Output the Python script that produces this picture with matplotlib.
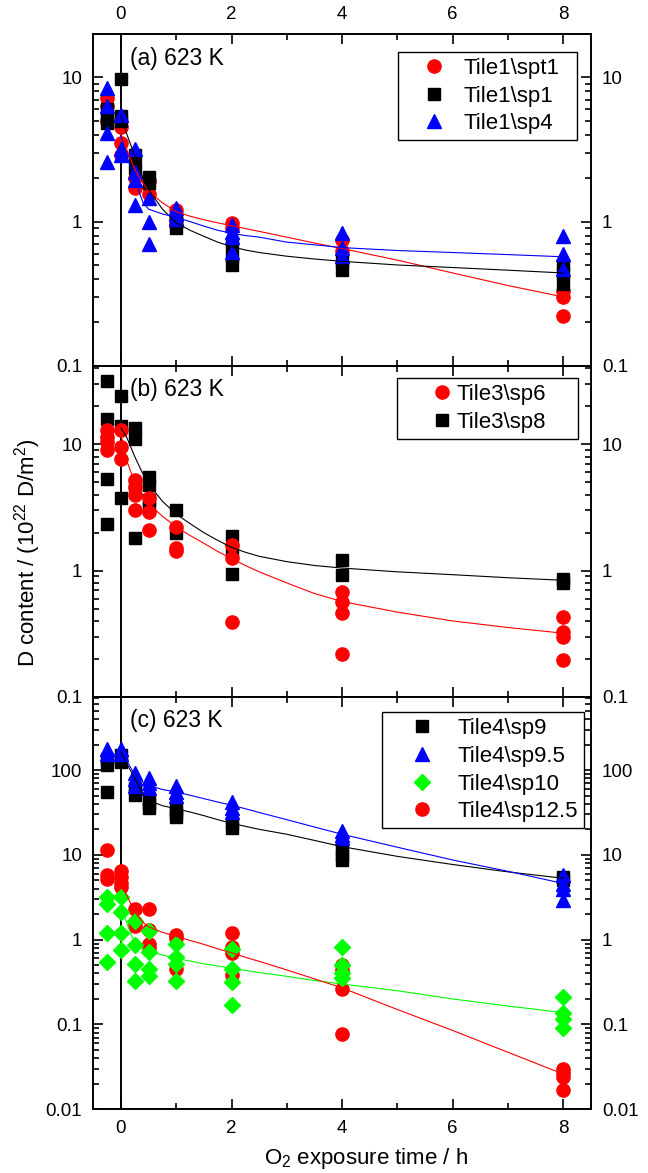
import matplotlib
matplotlib.use("Agg")
import matplotlib.pyplot as plt
from matplotlib.ticker import FuncFormatter, MultipleLocator, LogLocator, NullFormatter

plt.rcParams['font.family'] = ['Liberation Sans', 'DejaVu Sans']
plt.rcParams['mathtext.fontset'] = 'custom'
plt.rcParams['mathtext.rm'] = 'Liberation Sans'
plt.rcParams['mathtext.it'] = 'Liberation Sans:italic'

# measurement times (h), -0.25 = before O2 exposure
times = [-0.25, 0, 0.25, 0.5, 1, 2, 4, 8]

# panel (a) - values per time
a_spt1 = [[7.2, 6.3, 5.0], [4.5, 3.5, 2.9], [2.0, 1.7], [1.9, 1.55],
          [1.2, 1.05, 0.95], [0.97, 0.9], [0.75, 0.63], [0.33, 0.30, 0.22]]
a_sp1 = [[6.0, 5.2, 4.8], [9.8, 5.4, 5.0], [2.9, 2.35], [2.05, 1.85],
         [1.0, 0.9], [0.7, 0.58, 0.5], [0.53, 0.46], [0.5, 0.44, 0.37]]
a_sp4 = [[8.5, 6.3, 4.1, 2.6], [5.5, 3.2, 2.9], [3.2, 2.2, 1.95, 1.3], [1.45, 1.0, 0.7],
         [1.25, 1.12, 1.05], [0.95, 0.85, 0.78, 0.62], [0.83, 0.66, 0.58], [0.8, 0.6, 0.47]]

# panel (b)
b_sp6 = [[13, 11.5, 10.5, 9.0], [13, 9.5, 7.7], [5.2, 4.6, 4.0, 3.0], [3.8, 2.9, 2.1],
         [2.2, 1.5, 1.42], [1.6, 1.25, 0.39], [0.68, 0.57, 0.46, 0.22], [0.43, 0.33, 0.30, 0.195]]
b_sp8 = [[32, 16, 5.3, 2.35], [24, 14, 3.8], [13.5, 11, 4.5, 1.8], [5.5, 4.8, 3.6, 3.2],
         [3.0, 2.0], [1.9, 1.45, 0.94], [1.22, 0.92], [0.86, 0.80]]

# panel (c)
c_sp9 = [[135, 115, 55], [150, 125], [62, 51], [45, 40, 36],
         [35, 31, 28], [24, 21], [12, 10, 8.8], [5.5, 5.0]]
c_sp95 = [[175, 155], [175, 155], [92, 78, 65], [80, 70, 62],
          [65, 55, 50], [42, 36, 32], [19, 17, 16], [5.8, 4.5, 4.0, 2.9]]
c_sp10 = [[3.2, 2.6, 1.2, 0.55], [3.2, 2.1, 1.2, 0.76], [1.65, 0.86, 0.52, 0.33], [1.25, 0.72, 0.45, 0.37],
          [0.9, 0.63, 0.52, 0.33], [0.78, 0.45, 0.32, 0.17], [0.82, 0.5, 0.4, 0.35], [0.21, 0.135, 0.115, 0.09]]
c_sp125 = [[11.5, 5.8, 5.2], [6.4, 5.5, 4.6, 4.2], [2.3, 1.6, 1.45], [2.3, 1.3, 0.9, 0.8],
           [1.15, 1.05, 0.45], [1.2, 0.82, 0.7, 0.38], [0.5, 0.44, 0.26, 0.078], [0.03, 0.027, 0.024, 0.017]]

# fit curves
fit_t = [0, 0.1, 0.25, 0.4, 0.5, 0.75, 1, 1.25, 1.5, 1.75, 2, 2.25, 2.5, 3, 3.5, 4, 5, 6, 7, 8]
fit_a_spt1 = [4.0, 3.2, 2.3, 1.85, 1.62, 1.35, 1.17, 1.09, 1.03, 0.98, 0.935, 0.895, 0.855, 0.78, 0.71,
              0.65, 0.54, 0.44, 0.36, 0.30]
fit_a_sp1 = [5.4, 4.1, 2.85, 2.0, 1.66, 1.22, 0.98, 0.87, 0.79, 0.72, 0.67, 0.635, 0.61, 0.575, 0.55,
             0.53, 0.50, 0.48, 0.46, 0.44]
fit_a_sp4 = [3.9, 2.9, 1.95, 1.35, 1.22, 1.13, 1.07, 1.0, 0.93, 0.87, 0.83, 0.8, 0.78, 0.72, 0.69,
             0.66, 0.63, 0.61, 0.59, 0.57]
fit_b_sp6 = [12, 7.5, 5.0, 3.9, 3.4, 2.7, 2.22, 1.9, 1.65, 1.42, 1.25, 1.1, 0.98, 0.8, 0.66,
             0.57, 0.47, 0.40, 0.355, 0.32]
fit_b_sp8 = [13.5, 11.5, 8.0, 5.8, 4.85, 3.55, 2.8, 2.36, 2.0, 1.74, 1.53, 1.4, 1.3, 1.18, 1.1,
             1.05, 0.98, 0.93, 0.88, 0.84]
fit_c_sp9 = [165, 120, 80, 52, 44, 38, 35, 32, 29, 26, 23.5, 21.7, 20, 17.5, 14.8,
             12.5, 9.6, 7.7, 6.3, 5.3]
fit_c_sp95 = [175, 130, 88, 72, 66, 59, 55, 50.5, 46, 42, 38.5, 35, 31.6, 26, 21.3,
              17.5, 12.3, 8.7, 6.4, 4.6]
fit_c_sp10 = [2.5, 1.6, 0.9, 0.78, 0.73, 0.66, 0.6, 0.56, 0.52, 0.49, 0.46, 0.435, 0.41, 0.37, 0.33,
              0.30, 0.25, 0.2, 0.165, 0.138]
fit_c_sp125 = [4.2, 3.4, 2.1, 1.6, 1.42, 1.22, 1.09, 0.98, 0.88, 0.78, 0.7, 0.62, 0.555, 0.44, 0.345,
               0.27, 0.15, 0.085, 0.047, 0.026]

RED, BLACK, BLUE, GREEN = '#ff0000', '#000000', '#0000ff', '#00ff00'
STY = {'o': 9.5, 's': 8, '^': 10, 'D': 8}


def scatter(ax, vals, marker, color, label, z):
    xs, ys = [], []
    for t, v in zip(times, vals):
        xs += [t] * len(v)
        ys += v
    ax.plot(xs, ys, linestyle='none', marker=marker, ms=STY[marker], color=color,
            mec=color, label=label, zorder=z)


def style(ax, ylim, top=False, bottom=False):
    ax.set_yscale('log')
    ax.set_xlim(-0.5, 8.5)
    ax.set_ylim(*ylim)
    ax.axvline(0, color='k', lw=1.4, zorder=1)
    ax.xaxis.set_major_locator(MultipleLocator(2))
    ax.xaxis.set_minor_locator(MultipleLocator(1))
    ax.yaxis.set_major_locator(LogLocator(base=10))
    ax.yaxis.set_minor_locator(LogLocator(base=10, subs=range(2, 10)))
    ax.yaxis.set_major_formatter(FuncFormatter(lambda v, p: '%g' % v))
    ax.yaxis.set_minor_formatter(NullFormatter())
    ax.tick_params(which='both', direction='in', top=True, right=True,
                   labelright=True, labeltop=top, labelbottom=bottom,
                   labelsize=13.5, pad=8, width=1.2)
    ax.tick_params(which='major', length=7)
    ax.tick_params(which='minor', length=4)
    for s in ax.spines.values():
        s.set_linewidth(1.4)


def legend(ax, x0, x1, y1, hl, tp):
    lg = ax.legend(loc='upper right', bbox_to_anchor=(x0, 0, x1 - x0, y1), mode='expand',
                   borderaxespad=0, fancybox=False, edgecolor='k', framealpha=1,
                   fontsize=16, numpoints=1, handlelength=hl, handletextpad=tp,
                   borderpad=0.27, labelspacing=0.3)
    lg.get_frame().set_linewidth(1.0)


fig = plt.figure(figsize=(6.48, 11.73), dpi=100)
L, W = 0.144, 0.768
ax_a = fig.add_axes([L, 0.6882, W, 0.2828])
ax_b = fig.add_axes([L, 0.4058, W, 0.2824])
ax_c = fig.add_axes([L, 0.0543, W, 0.3512])

# (a)
scatter(ax_a, a_spt1, 'o', RED, 'Tile1\\spt1', 2)
scatter(ax_a, a_sp1, 's', BLACK, 'Tile1\\sp1', 2.1)
scatter(ax_a, a_sp4, '^', BLUE, 'Tile1\\sp4', 2.2)
ax_a.plot(fit_t, fit_a_spt1, color=RED, lw=0.8, zorder=3)
ax_a.plot(fit_t, fit_a_sp1, color=BLACK, lw=0.8, zorder=3)
ax_a.plot(fit_t, fit_a_sp4, color=BLUE, lw=0.8, zorder=3)
style(ax_a, (0.1, 20), top=True)
ax_a.text(0.16, 0.927, '(a) 623 K', transform=ax_a.get_xaxis_transform(),
          fontsize=16.5, va='center')
legend(ax_a, 0.612, 0.972, 0.946, 2.7, 0.0)

# (b)
scatter(ax_b, b_sp6, 'o', RED, 'Tile3\\sp6', 2.1)
scatter(ax_b, b_sp8, 's', BLACK, 'Tile3\\sp8', 2)
ax_b.plot(fit_t, fit_b_sp6, color=RED, lw=0.8, zorder=3)
ax_b.plot(fit_t, fit_b_sp8, color=BLACK, lw=0.8, zorder=3)
style(ax_b, (0.1, 42))
ax_b.text(0.16, 0.927, '(b) 623 K', transform=ax_b.get_xaxis_transform(),
          fontsize=16.5, va='center')
legend(ax_b, 0.610, 0.974, 0.963, 3.5, -1.08)

# (c)
scatter(ax_c, c_sp9, 's', BLACK, 'Tile4\\sp9', 2.1)
scatter(ax_c, c_sp95, '^', BLUE, 'Tile4\\sp9.5', 2.2)
scatter(ax_c, c_sp10, 'D', GREEN, 'Tile4\\sp10', 2.05)
scatter(ax_c, c_sp125, 'o', RED, 'Tile4\\sp12.5', 2)
ax_c.plot(fit_t, fit_c_sp9, color=BLACK, lw=0.8, zorder=3)
ax_c.plot(fit_t, fit_c_sp95, color=BLUE, lw=0.8, zorder=3)
ax_c.plot(fit_t, fit_c_sp10, color=GREEN, lw=0.8, zorder=3)
ax_c.plot(fit_t, fit_c_sp125, color=RED, lw=0.8, zorder=3)
style(ax_c, (0.01, 720), bottom=True)
ax_c.text(0.16, 0.944, '(c) 623 K', transform=ax_c.get_xaxis_transform(),
          fontsize=16.5, va='center')
legend(ax_c, 0.580, 0.986, 0.964, 3.06, 0.05)

fig.text(0.565, 0.0077, 'O$_2$ exposure time / h', fontsize=16,
         ha='center', va='baseline')
fig.text(0.042, 0.5286, 'D content / (10$^{22}$ D/m$^2$)', rotation=90,
         fontsize=16, ha='center', va='center')

fig.savefig('out.png', dpi=100)
